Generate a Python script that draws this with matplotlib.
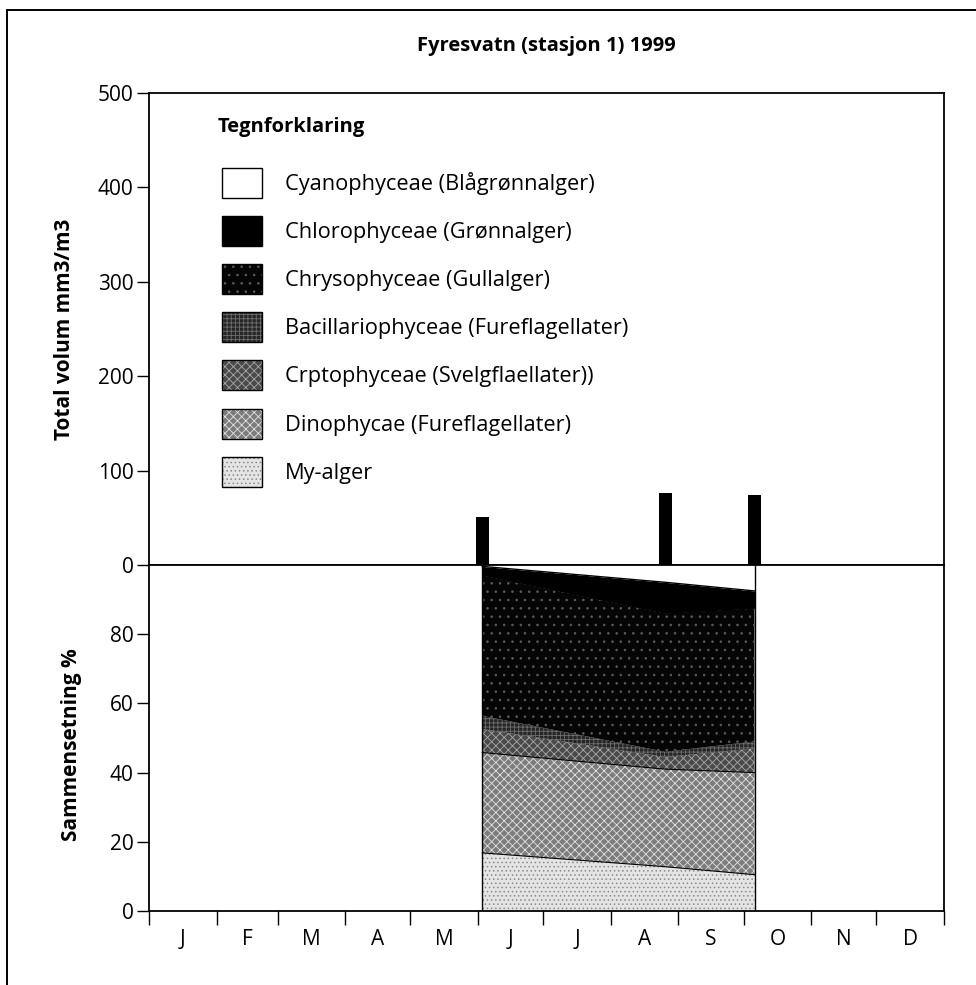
import numpy as np
import pandas as pd
import matplotlib.pyplot as plt
from matplotlib.patches import Patch, Rectangle
from matplotlib.legend_handler import HandlerTuple

plt.rcParams['font.family'] = ['Open Sans', 'DejaVu Sans']
plt.rcParams['hatch.linewidth'] = 0.6

# Fyresvatn station 1, 1999 - sampling dates and total volume (mm3/m3)
sample_dates = ['1999-06-03', '1999-08-26', '1999-10-06']
total_volume = [51, 76, 74]

# composition (%) per sampling date, listed from top of the stack to bottom
groups = ['Cyanophyceae (Blågrønnalger)', 'Chlorophyceae (Grønnalger)',
          'Chrysophyceae (Gullalger)', 'Bacillariophyceae (Fureflagellater)',
          'Crptophyceae (Svelgflaellater))', 'Dinophycae (Fureflagellater)',
          'My-alger']
cyano = [0.4, 5.0, 7.5]
chloro = [2.6, 9.0, 5.0]
chryso = [40.6, 40.0, 38.5]
bacillario = [3.8, 1.5, 2.0]
crypto = [6.8, 3.5, 7.0]
dino = [29.0, 28.2, 29.5]
my_alger = [16.8, 12.8, 10.5]

months = ['J', 'F', 'M', 'A', 'M', 'J', 'J', 'A', 'S', 'O', 'N', 'D']

# fill colour, hatch, hatch colour for each group (same order as groups)
styles = [
    ('white', None, 'white'),
    ('black', None, 'black'),
    ('#050505', '..', '#5c5c5c'),
    ('#262626', '++++', '#6e6e6e'),
    ('#4a4a4a', 'xxxx', '#a8a8a8'),
    ('#7c7c7c', 'xxxx', '#e2e2e2'),
    ('#e4e4e4', '....', '#8a8a8a'),
]

year_start = pd.Timestamp('1999-01-01')
x = (pd.to_datetime(sample_dates) - year_start).days.values.astype(float)
month_starts = (pd.date_range('1999-01-01', periods=13, freq='MS') - year_start).days.values
month_mids = (month_starts[:-1] + month_starts[1:]) / 2

W, H = 976, 985
fig = plt.figure(figsize=(W / 100, H / 100), dpi=100)


def fx(px):
    return px / W


def fy(py):
    return 1 - py / H


left, right = 149, 944
top, mid, bottom = 93, 565, 911
ax_top = fig.add_axes([fx(left), fy(mid), fx(right - left), fy(top) - fy(mid)])
ax_bot = fig.add_axes([fx(left), fy(bottom), fx(right - left), fy(mid) - fy(bottom)])

# outer frame around the whole figure
fig.patches.append(Rectangle((fx(7), -0.05), 1.2, fy(10) + 0.05, transform=fig.transFigure,
                             fill=False, edgecolor='black', linewidth=1.4))

lw = 1.3
for ax in (ax_top, ax_bot):
    ax.set_xlim(0, 365)
    for s in ax.spines.values():
        s.set_linewidth(lw)
    ax.tick_params(axis='y', direction='out', length=9, width=1.0, labelsize=15, pad=2)

# upper panel: total volume bars
ax_top.bar(x, total_volume, width=6, color='black', zorder=3)
ax_top.set_ylim(0, 500)
ax_top.set_yticks(np.arange(0, 501, 100))
ax_top.set_xticks([])
ax_top.set_ylabel('Total volum mm3/m3', fontsize=15, fontweight='bold')
ax_top.yaxis.set_label_coords(-0.093, 0.5)
ax_top.set_title('Fyresvatn (stasjon 1) 1999', fontsize=14.5, fontweight='bold', pad=30)

# lower panel: stacked composition
series = [cyano, chloro, chryso, bacillario, crypto, dino, my_alger]
base = np.zeros(len(x))
for vals, (fc, hatch, hc) in zip(series[::-1], styles[::-1]):
    upper = base + np.array(vals)
    ax_bot.fill_between(x, base, upper, facecolor=fc, hatch=hatch, edgecolor=hc,
                        linewidth=0, zorder=2)
    base = upper

# boundary lines between the lighter layers and the outline of the stack
cum = np.cumsum(np.array(series[::-1]), axis=0)
for k in (0, 1):
    ax_bot.plot(x, cum[k], color='black', linewidth=0.8, zorder=3)
ax_bot.plot(x, cum[-2], color='black', linewidth=1.0, zorder=3)
ax_bot.plot([x[0], x[0]], [0, 100], color='black', linewidth=1.0, zorder=3)
ax_bot.plot([x[-1], x[-1]], [0, 100], color='black', linewidth=1.0, zorder=3)

ax_bot.set_ylim(0, 100)
ax_bot.set_yticks(np.arange(0, 81, 20))
ax_bot.set_xticks(month_starts)
ax_bot.set_xticklabels([])
ax_bot.set_xticks(month_mids, minor=True)
ax_bot.set_xticklabels(months, minor=True)
ax_bot.tick_params(axis='x', which='major', direction='out', length=10, width=1.0)
ax_bot.tick_params(axis='x', which='minor', length=0, labelsize=15, pad=13)
ax_bot.set_ylabel('Sammensetning %', fontsize=15, fontweight='bold')
ax_bot.yaxis.set_label_coords(-0.084, 0.48)

# legend drawn inside the upper panel
handles = []
for fc, hatch, hc in styles:
    fill = Patch(facecolor=fc, hatch=hatch, edgecolor=hc, linewidth=0)
    frame = Patch(facecolor='none', edgecolor='black', linewidth=1.0)
    handles.append((fill, frame))
ax_top.legend(handles, groups, handler_map={tuple: HandlerTuple(ndivide=1, pad=0)},
              loc='upper left', bbox_to_anchor=(fx(222), fy(168)), bbox_transform=fig.transFigure,
              frameon=False, fontsize=15.7, borderpad=0, borderaxespad=0,
              handlelength=1.83, handleheight=1.74, handletextpad=1.05, labelspacing=0.83)
fig.text(fx(218), fy(127), 'Tegnforklaring', fontsize=14.5, fontweight='bold', va='center', ha='left')

fig.savefig('out.png', dpi=100)
